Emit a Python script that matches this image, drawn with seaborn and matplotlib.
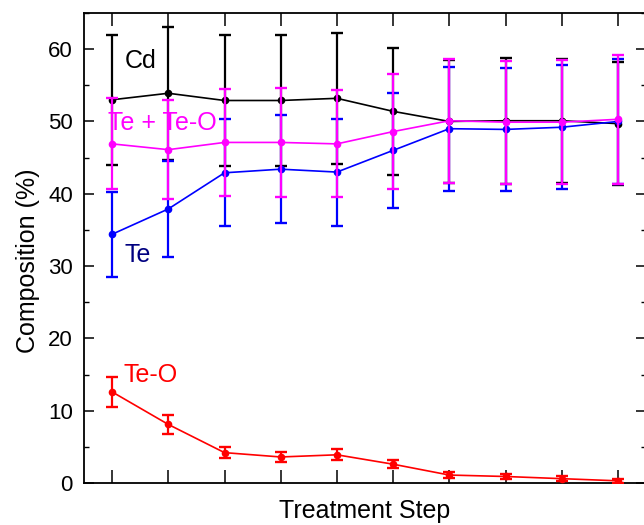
import numpy as np
import pandas as pd
import matplotlib
matplotlib.use("Agg")
import matplotlib.pyplot as plt
from matplotlib.ticker import MultipleLocator
import seaborn as sns

# ---- data ----
steps = [1, 2, 3, 4, 5, 6, 7, 8, 9, 10]
cd = [53.0, 53.9, 52.9, 52.9, 53.2, 51.4, 50.0, 50.1, 50.1, 49.7]
cd_err = [9.0, 9.2, 9.1, 9.1, 9.1, 8.8, 8.5, 8.7, 8.6, 8.5]
te_teo = [46.9, 46.1, 47.1, 47.1, 46.9, 48.6, 50.1, 49.9, 49.9, 50.3]
te_teo_err = [6.3, 6.8, 7.4, 7.5, 7.4, 8.0, 8.6, 8.5, 8.6, 8.9]
te = [34.4, 37.9, 42.9, 43.4, 43.0, 46.0, 49.0, 48.9, 49.2, 50.0]
te_err = [5.9, 6.6, 7.4, 7.5, 7.4, 8.0, 8.6, 8.5, 8.6, 8.7]
teo = [12.6, 8.1, 4.2, 3.6, 3.9, 2.6, 1.1, 0.9, 0.6, 0.3]
teo_err = [2.1, 1.35, 0.8, 0.75, 0.75, 0.55, 0.4, 0.4, 0.35, 0.3]

series_names = ["Cd", "Te", "Te + Te-O", "Te-O"]
series_vals = [cd, te, te_teo, teo]
series_errs = [cd_err, te_err, te_teo_err, teo_err]
series_colors = ["#000000", "#0000FF", "#FF00FF", "#FF0000"]

sns.set_theme(style="white")
plt.rcParams["font.family"] = ["Liberation Sans", "DejaVu Sans"]
plt.rcParams["text.color"] = "black"
plt.rcParams["axes.labelcolor"] = "black"
plt.rcParams["xtick.color"] = "black"
plt.rcParams["ytick.color"] = "black"

fig = plt.figure(figsize=(6.44, 5.25), dpi=100)
ax = fig.add_axes([84 / 644, 42 / 525, 562 / 644, 470 / 525])

for name, vals, errs, col in zip(series_names, series_vals, series_errs, series_colors):
    df = pd.DataFrame({"step": steps, "val": vals})
    sns.lineplot(data=df, x="step", y="val", ax=ax, color=col, lw=1.2,
                 marker="o", markersize=5.5, markeredgewidth=0, zorder=3)
    ax.errorbar(steps, vals, yerr=errs, fmt="none", ecolor=col,
                elinewidth=1.6, capsize=4, capthick=1.7, zorder=3)

# annotations
ax.text(1.22, 58.3, "Cd", color="#000000", fontsize=18, ha="left", va="center")
ax.text(0.93, 49.8, "Te + Te-O", color="#FF00FF", fontsize=18, ha="left", va="center")
ax.text(1.22, 31.5, "Te", color="#000080", fontsize=18, ha="left", va="center")
ax.text(1.2, 14.9, "Te-O", color="#FF0000", fontsize=18, ha="left", va="center")

ax.set_xlim(0.5, 10.5)
ax.set_ylim(0, 65)
ax.set_xticks(steps)
ax.set_xticklabels([])
ax.yaxis.set_major_locator(MultipleLocator(10))
ax.yaxis.set_minor_locator(MultipleLocator(5))
ax.set_yticks([0, 10, 20, 30, 40, 50, 60])

ax.tick_params(axis="x", which="major", direction="in", length=9.5, width=1.1,
               top=True, bottom=True, color="black")
ax.tick_params(axis="y", which="major", direction="in", length=7, width=1.1,
               left=True, right=True, labelsize=16, pad=8, color="black",
               labelcolor="black")
ax.tick_params(axis="y", which="minor", direction="in", length=3.5, width=1.0,
               left=True, right=True, color="black")

for sp in ax.spines.values():
    sp.set_color("black")
    sp.set_linewidth(1.3)

ax.set_xlabel("Treatment Step", fontsize=18, color="black")
ax.set_ylabel("Composition (%)", fontsize=18, color="black")
ax.xaxis.set_label_coords(0.5, -0.033)
ax.yaxis.set_label_coords(-0.078, 0.472)

fig.savefig("out.png", dpi=100)
